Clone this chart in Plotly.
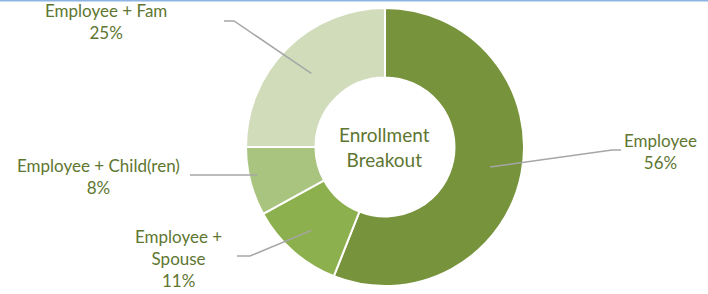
import math
import plotly.graph_objects as go

# ---- data ----
categories = ["Employee", "Employee + Spouse", "Employee + Child(ren)", "Employee + Fam"]
label_texts = ["Employee<br>56%", "Employee +<br>Spouse<br>11%", "Employee + Child(ren)<br>8%", "Employee + Fam<br>25%"]
values = [56, 11, 8, 25]
colors = ["#77933C", "#8DB04E", "#A9C47F", "#D0DCBA"]

W, H = 708, 294
CX, CY, R = 385, 147, 139
HOLE = 0.5
TEXT_COLOR = "#5E7631"
FONT = "Lato"

fig = go.Figure(go.Pie(
    labels=categories, values=values, sort=False, direction="clockwise",
    rotation=0, hole=HOLE, textinfo="none", hoverinfo="label+percent",
    marker=dict(colors=colors, line=dict(color="white", width=2)),
    domain=dict(x=[(CX - R) / W, (CX + R) / W], y=[1 - (CY + R) / H, 1 - (CY - R) / H]),
    showlegend=False,
))

def px(x, y):
    return x / W, 1 - y / H

# label placement (layout): text centre, elbow points, leader radius fraction
label_layout = [
    dict(tx=660, ty=151, pts=[(612, 150), (621, 150)], rf=0.77),
    dict(tx=178, ty=258, pts=[(250, 256), (237, 256)], rf=0.80),
    dict(tx=98, ty=176, pts=[(190, 175)], rf=0.95),
    dict(tx=106, ty=22, pts=[(234, 21), (224, 21)], rf=0.75),
]

total = sum(values)
cum = 0
shapes = []
annotations = []
for i, v in enumerate(values):
    mid = (cum + v / 2) / total * 2 * math.pi
    cum += v
    lay = label_layout[i]
    r = R * lay["rf"]
    sx, sy = CX + r * math.sin(mid), CY - r * math.cos(mid)
    pts = [(sx, sy)]
    if i == 2:
        pts = [(sx, 175)]
    pts += lay["pts"]
    path = "M " + " L ".join(f"{px(x, y)[0]:.5f},{px(x, y)[1]:.5f}" for x, y in pts)
    shapes.append(dict(type="path", xref="paper", yref="paper", path=path,
                       line=dict(color="#A6A6A6", width=1.5)))
    ax, ay = px(lay["tx"], lay["ty"])
    annotations.append(dict(x=ax, y=ay, xref="paper", yref="paper", text=label_texts[i],
                            showarrow=False, xanchor="center", yanchor="middle",
                            font=dict(family=FONT, size=17, color=TEXT_COLOR), align="center"))

annotations.append(dict(x=CX / W, y=1 - CY / H, xref="paper", yref="paper",
                        text="Enrollment<br>Breakout", showarrow=False,
                        font=dict(family=FONT, size=19, color=TEXT_COLOR), align="center"))

shapes.append(dict(type="line", xref="paper", yref="paper", x0=0, x1=1, y0=1, y1=1,
                   line=dict(color="#8EB4E3", width=3)))

fig.update_layout(width=W, height=H, margin=dict(l=0, r=0, t=0, b=0),
                  paper_bgcolor="white", plot_bgcolor="white",
                  shapes=shapes, annotations=annotations)

fig.write_html("out.html", config={"displayModeBar": False},
               post_script="document.body.style.margin='0';")
